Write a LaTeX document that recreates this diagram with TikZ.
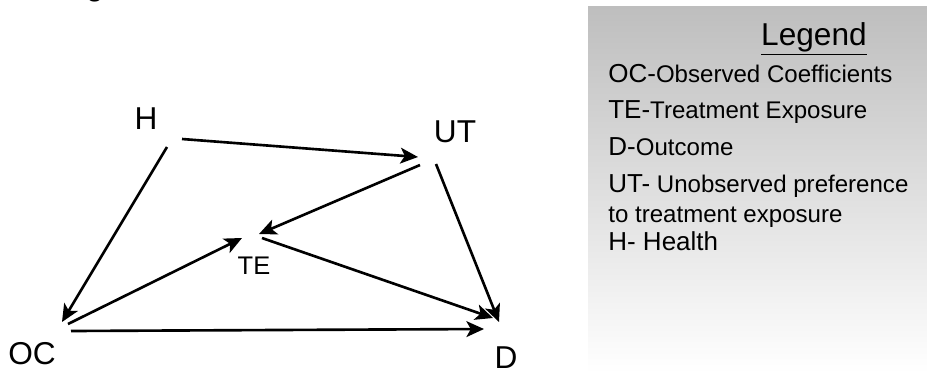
\documentclass[tikz,border=0pt]{standalone}
\usepackage{fontspec}
\setmainfont{Liberation Sans}
\usetikzlibrary{arrows.meta, calc}
\definecolor{legtop}{RGB}{190,190,190}
\tikzset{
	lbl/.style={font=\fontsize{18}{21}\selectfont, inner sep=0pt},
	legline/.style={font=\fontsize{14.8}{17}\selectfont, inner sep=0pt, anchor=base west},
	arr/.style={line width=1.5pt, -{Stealth[length=10pt, width=9pt, inset=2.5pt]}}
}
\newcommand{\legsmall}{\fontsize{13.7}{16}\selectfont}
\begin{document}
\begin{tikzpicture}[x=0.02cm, y=-0.02cm]
	\useasboundingbox(0, 0)rectangle(927, 373);
	\node[lbl, anchor=base](title)at(95, -5){g};
	% legend panel
	\shade[top color=legtop, bottom color=white](588, 6)rectangle(927, 373);
	\node[lbl, anchor=base](leg)at(814, 45){\underline{Legend}};
	\node[legline](l1)at(608, 82){OC-{\legsmall Observed Coefficients}};
	\node[legline](l2)at(608, 118){TE-{\legsmall Treatment Exposure}};
	\node[legline](l3)at(608, 155){D-{\legsmall Outcome}};
	\node[legline](l4)at(608, 192){UT-{\legsmall\ Unobserved preference}};
	\node[legline](l5)at(608, 222){\legsmall to treatment exposure};
	\node[legline](l6)at(608, 250){H- Health};
	% variables
	\node[lbl](H)at(146, 119){H};
	\node[lbl](UT)at(455, 132){UT};
	\node[lbl, font=\fontsize{14.5}{17}\selectfont](TE)at(254, 266){TE};
	\node[lbl](OC)at(32, 354){OC};
	\node[lbl](D)at(506, 358){D};
	% arrows
	\draw[arr]($(H)+(21, 28)$)--($(OC)+(30, -32)$);
	\draw[arr]($(H)+(36, 20)$)--($(UT)+(-37, 25)$);
	\draw[arr]($(UT)+(-35, 33)$)--($(TE)+(5, -32)$);
	\draw[arr]($(UT)+(-19, 32)$)--($(D)+(-7, -36)$);
	\draw[arr]($(TE)+(8, -28)$)--($(D)+(-13, -40)$);
	\draw[arr]($(OC)+(36, -30)$)--($(TE)+(-12, -28)$);
	\draw[arr]($(OC)+(39, -23)$)--($(D)+(-22, -29)$);
\end{tikzpicture}
\end{document}
